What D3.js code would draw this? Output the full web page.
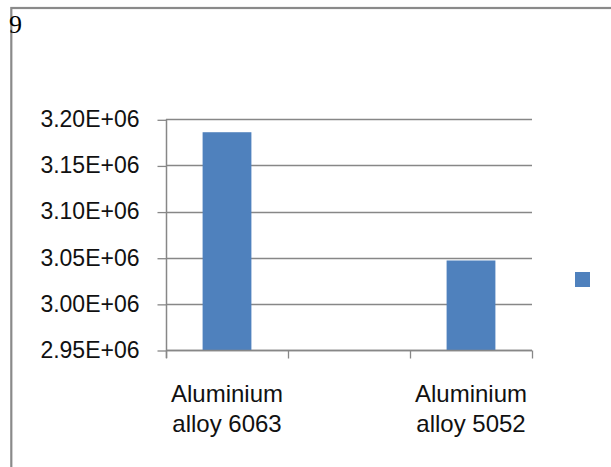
<!DOCTYPE html>
<html lang="en">
<head>
	<meta charset="UTF-8">
	<title>aluminium alloy bar chart</title>
	<script src="https://d3js.org/d3.v7.min.js" charset="utf-8"></script>
	<style>
		body { margin: 0; background: #fff; }
		svg { display: block; }
	</style>
</head>
<body>
	<svg id="content" width="611" height="467"></svg>
<script>
var categories = ["Aluminium\nalloy 6063", "", "Aluminium\nalloy 5052"];
var values = [3186000, null, 3047000];
var yTicks = [2950000, 3000000, 3050000, 3100000, 3150000, 3200000];
var legendNames = [""];

var svg = d3.select("#content");
var barColor = "#4f81bd";
var lineColor = "#878787";

// outer frame, only left and top edges are visible
svg.append("rect")
	.attr("x", 11.3).attr("y", 8)
	.attr("width", 640).attr("height", 500)
	.attr("fill", "none")
	.attr("stroke", "#8a8a8a")
	.attr("stroke-width", 2.2);

svg.append("text")
	.attr("x", 9).attr("y", 33)
	.attr("font-family", "Liberation Serif, serif")
	.attr("font-size", 26)
	.text("9");

// note: "top" is taken by window.top, so plot edges get their own names
var plotLeft = 166, plotRight = 532, plotTop = 119.3, plotBottom = 350;

var y = d3.scaleLinear()
	.domain([2950000, 3200000])
	.range([plotBottom, plotTop]);

var x = d3.scaleBand()
	.domain(d3.range(categories.length))
	.range([plotLeft, plotRight])
	.paddingInner(0.6)
	.paddingOuter(0.3);

var edges = d3.scaleLinear()
	.domain([0, categories.length])
	.range([plotLeft, plotRight]);

// gridlines
svg.append("g")
	.selectAll("line")
	.data(yTicks)
	.enter()
	.append("line")
	.attr("x1", plotLeft).attr("x2", plotRight)
	.attr("y1", function(d){ return Math.round(y(d)) + 0.5; })
	.attr("y2", function(d){ return Math.round(y(d)) + 0.5; })
	.attr("stroke", lineColor)
	.attr("stroke-width", 1.3);

// bars
svg.append("g")
	.selectAll("rect")
	.data(values.map(function(v, i){ return {i: i, v: v}; }).filter(function(d){ return d.v != null; }))
	.enter()
	.append("rect")
	.attr("x", function(d){ return x(d.i); })
	.attr("width", x.bandwidth())
	.attr("y", function(d){ return y(d.v); })
	.attr("height", function(d){ return y(2950000) - y(d.v); })
	.attr("fill", barColor);

// y axis
var yAxis = d3.axisLeft(y)
	.tickValues(yTicks)
	.tickSize(9)
	.tickPadding(18)
	.tickFormat(function(d){ return (d / 1e6).toFixed(2) + "E+06"; });

var gy = svg.append("g")
	.attr("transform", "translate(" + (plotLeft + 0.5) + ",0)")
	.call(yAxis);
gy.select(".domain").remove();
gy.selectAll(".tick line").attr("stroke", lineColor).attr("stroke-width", 1.3)
	.attr("transform", "translate(0,0.5)");
gy.selectAll(".tick text")
	.attr("font-family", "Liberation Sans, Arial, sans-serif")
	.attr("font-size", 23)
	.attr("fill", "#111");
gy.append("line")
	.attr("x1", 0).attr("x2", 0)
	.attr("y1", plotTop).attr("y2", plotBottom + 8)
	.attr("stroke", lineColor).attr("stroke-width", 1.5);

// x axis, ticks at category edges
var xAxis = d3.axisBottom(edges)
	.tickValues(d3.range(categories.length + 1))
	.tickSize(8)
	.tickFormat("");

var gx = svg.append("g")
	.attr("transform", "translate(0," + (plotBottom + 0.5) + ")")
	.call(xAxis);
gx.select(".domain").attr("d", "M" + plotLeft + ",0H" + plotRight).attr("stroke", lineColor).attr("stroke-width", 1.5);
gx.selectAll(".tick line").attr("stroke", lineColor).attr("stroke-width", 1.3);

// category labels
svg.append("g")
	.selectAll("text")
	.data(categories)
	.enter()
	.append("text")
	.attr("font-family", "Liberation Sans, Arial, sans-serif")
	.attr("font-size", 24)
	.attr("fill", "#111")
	.attr("text-anchor", "middle")
	.each(function(d, i){
		var lines = d.split("\n");
		var t = d3.select(this);
		lines.forEach(function(s, k){
			t.append("tspan")
				.attr("x", x(i) + x.bandwidth() / 2)
				.attr("y", 401.7 + k * 30)
				.text(s);
		});
	});

// legend
svg.append("g")
	.selectAll("rect")
	.data(legendNames)
	.enter()
	.append("rect")
	.attr("x", 575).attr("y", 272)
	.attr("width", 15).attr("height", 15)
	.attr("fill", barColor);
</script>
</body>
</html>
